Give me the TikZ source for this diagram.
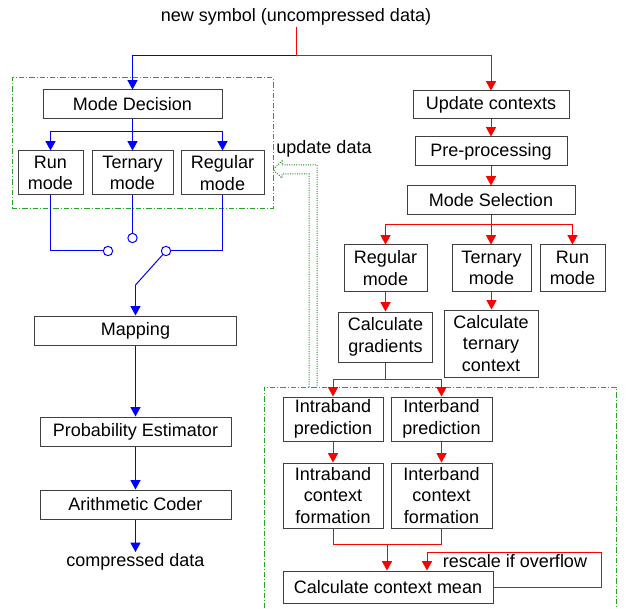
\documentclass[tikz,border=0pt]{standalone}
\usepackage{fontspec}
\setmainfont{Liberation Sans}
\usepackage{tikz}
\usetikzlibrary{arrows, arrows.meta, positioning}
\definecolor{boxgray}{RGB}{64,64,64}
\definecolor{grpgreen}{RGB}{40,165,40}
\tikzset{>={Triangle[length=7pt,width=7.5pt]}}
\tikzset{
  blk/.style={draw=boxgray, fill=white, line width=0.75pt, align=center, inner sep=0pt, font=\fontsize{13.5}{16}\selectfont},
  txt/.style={inner sep=1pt, font=\fontsize{13.5}{16}\selectfont},
  bl/.style={draw=blue, line width=0.75pt},
  rd/.style={draw=red, line width=0.75pt},
  grp/.style={draw=grpgreen, line width=0.75pt, dash pattern=on 4pt off 1.5pt on 0.75pt off 1.5pt},
  sw/.style={circle, draw=blue, fill=white, line width=0.75pt, minimum size=7pt, inner sep=0pt},
}

\begin{document}
\begin{tikzpicture}[x=0.75pt, y=-0.75pt]
    \useasboundingbox (0,0) rectangle (627,609);

    % groups
    \node[grp, minimum width=195.75pt, minimum height=98.25pt] (grpL) at (142.5,143.5) {};
    \node[grp, minimum width=264pt, minimum height=170.25pt] (grpR) at (440,500.5) {};

    % input
    \node[txt] (src) at (296,17) {new symbol (uncompressed data)};
    \coordinate (split) at (296,56);

    % left branch
    \node[blk, minimum width=134.25pt, minimum height=21.75pt] (md) at (132.5,104.5) {Mode Decision};
    \node[blk, minimum width=48.75pt, minimum height=33pt] (runL) at (50.5,173) {Run\\mode};
    \node[blk, minimum width=60.75pt, minimum height=33pt] (ternL) at (132.5,173) {Ternary\\mode};
    \node[blk, minimum width=62.25pt, minimum height=33pt] (regL) at (222.5,173) {Regular\\mode};
    \coordinate (mdb) at (132.5,132);

    \node[sw] (sw1) at (108,251) {};
    \node[sw] (sw2) at (132.5,238) {};
    \node[sw] (sw3) at (166,251) {};
    \coordinate (knee) at (135.5,285);

    \node[blk, minimum width=151.5pt, minimum height=21.75pt] (map) at (135.5,330.5) {Mapping};
    \node[blk, minimum width=143.25pt, minimum height=21.75pt] (prob) at (135.5,431.5) {Probability Estimator};
    \node[blk, minimum width=143.25pt, minimum height=21.75pt] (ac) at (135.5,504.5) {Arithmetic Coder};
    \node[txt] (out) at (135.5,562) {compressed data};

    % right branch
    \node[blk, minimum width=117pt, minimum height=21pt] (uc) at (491,105) {Update contexts};
    \node[blk, minimum width=114pt, minimum height=21.75pt] (pre) at (491,151.5) {Pre-processing};
    \node[blk, minimum width=126pt, minimum height=21.75pt] (ms) at (491,200.5) {Mode Selection};
    \coordinate (msb) at (491,225);
    \node[blk, minimum width=62.25pt, minimum height=34.5pt] (regR) at (385.5,268) {Regular\\mode};
    \node[blk, minimum width=59.25pt, minimum height=34.5pt] (ternR) at (491.5,268) {Ternary\\mode};
    \node[blk, minimum width=48.75pt, minimum height=34.5pt] (runR) at (572.5,268) {Run\\mode};
    \node[blk, minimum width=70.5pt, minimum height=37.5pt] (cg) at (385.5,337) {Calculate\\gradients};
    \node[blk, minimum width=70.5pt, minimum height=50.25pt] (ctc) at (491,343.5) {Calculate\\ternary\\context};
    \coordinate (cgb) at (385.5,379);

    \node[blk, minimum width=75pt, minimum height=33pt] (intraP) at (333,419) {Intraband\\prediction};
    \node[blk, minimum width=75.75pt, minimum height=33pt] (interP) at (441.5,419) {Interband\\prediction};
    \node[blk, minimum width=75pt, minimum height=48.75pt] (intraC) at (333,495.5) {Intraband\\context\\formation};
    \node[blk, minimum width=75.75pt, minimum height=48.75pt] (interC) at (441.5,495.5) {Interband\\context\\formation};
    \coordinate (mrg) at (387,544);
    \node[blk, minimum width=157.5pt, minimum height=24pt] (ccm) at (388,587) {Calculate context mean};
    \coordinate (rs1) at (601,552);
    \coordinate (rs2) at (427,552);
    \node[txt] (rsc) at (515,561) {rescale if overflow};

    % update data feedback
    \node[txt] (upd) at (324,149) {update data};
    \coordinate (ua) at (309,387);
    \coordinate (ub) at (317,387);
    \coordinate (ua1) at (309,174);
    \coordinate (ub1) at (317,165);
    \coordinate (uh1) at (282,174);
    \coordinate (uh2) at (282,165);
    \coordinate (uh3) at (282,161);
    \coordinate (uh4) at (282,178);
    \coordinate (utip) at (273,169.5);
    \draw[grpgreen!85!black, line width=0.75pt, densely dotted]
        (ua) -- (ua1) -- (uh1) -- (uh4) -- (utip) -- (uh3) -- (uh2) -- (ub1) -- (ub);

    % connectors
    \draw[rd] (src) -- (split);
    \draw[bl,->] (split) -| (md);
    \draw[rd,->] (split) -| (uc);

    \draw[bl] (md) -- (mdb);
    \draw[bl,->] (mdb) -| (runL);
    \draw[bl,->] (mdb) -- (ternL);
    \draw[bl,->] (mdb) -| (regL);

    \draw[bl] (runL) |- (sw1);
    \draw[bl] (ternL) -- (sw2);
    \draw[bl] (regL) |- (sw3);
    \draw[bl] (sw3) -- (knee);
    \draw[bl,->] (knee) -- (map);
    \draw[bl,->] (map) -- (prob);
    \draw[bl,->] (prob) -- (ac);
    \draw[bl,->] (ac) -- (out);

    \draw[rd,->] (uc) -- (pre);
    \draw[rd,->] (pre) -- (ms);
    \draw[rd] (ms) -- (msb);
    \draw[rd,->] (msb) -| (regR);
    \draw[rd,->] (msb) -- (msb |- ternR.north);
    \draw[rd,->] (msb) -| (runR);
    \draw[rd,->] (regR) -- (cg);
    \draw[rd,->] (ternR) -- (ternR |- ctc.north);
    \draw[rd] (cg) -- (cgb);
    \draw[rd,->] (cgb) -| (intraP);
    \draw[rd,->] (cgb) -| (interP);
    \draw[rd,->] (intraP) -- (intraC);
    \draw[rd,->] (interP) -- (interC);
    \draw[rd] (intraC) |- (mrg);
    \draw[rd] (interC) |- (mrg);
    \draw[rd,->] (mrg) -- (mrg |- ccm.north);
    \draw[rd,->] (ccm.east) -| (rs1) -- (rs2) -- (rs2 |- ccm.north);
\end{tikzpicture}
\end{document}
